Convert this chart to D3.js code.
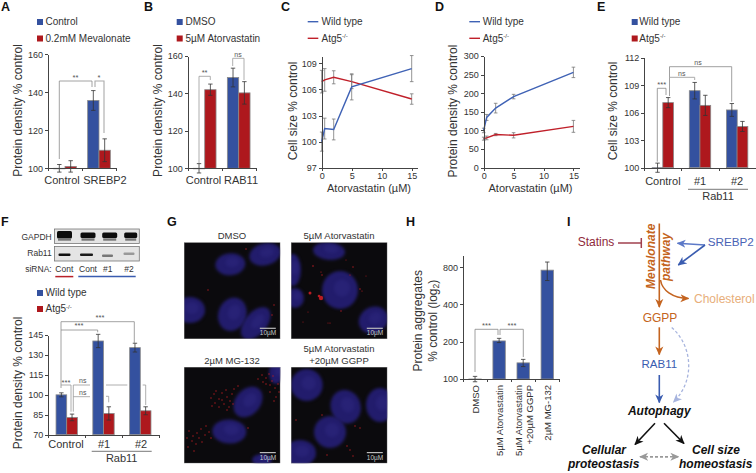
<!DOCTYPE html>
<html><head><meta charset="utf-8">
<script src="https://cdn.jsdelivr.net/npm/d3@7"></script>
<style>
html,body{margin:0;padding:0;background:#fff}
svg{display:block}
text{font-family:"Liberation Sans",Arial,sans-serif;fill:#333}
.axis path,.axis line{stroke:#444;stroke-width:1;shape-rendering:crispEdges}
.axis text{font-size:9px;fill:#333;font-family:"Liberation Sans",Arial,sans-serif}
</style></head><body>
<svg id="c" width="756" height="473" viewBox="0 0 756 473"></svg>
<script>
// ---------- DATA ----------
const BLUE="#34519f", RED="#ae181d", LINEBLUE="#3f62b5", LINERED="#c0202a";
const aCats=["Control","SREBP2"];
const aBlue=[100,135.7], aRed=[101,109.5], aBlueErr=[2,5.2], aRedErr=[3,6];
const bCats=["Control","RAB11"];
const bBlue=[100,148.5], bRed=[142,140.3], bBlueErr=[2.5,5], bRedErr=[3,6];
const doseX=[0,0.5,2,5,15];
const cBlue=[100,101.5,101.4,106.3,108.4], cBlueErr=[1.1,1.2,1.2,1.5,1.5];
const cRed=[106.9,107.1,107.4,106.9,104.9], cRedErr=[1.3,1.3,0.75,0.8,0.6];
const dBlue=[100,135,160,191,256], dBlueErr=[6,8,13,6,14];
const dRed=[78,80,89,87,111], dRedErr=[4,5,3,7,16];
const eCats=["Control","#1","#2"];
const eBlue=[100,108.4,106.3], eRed=[107.1,106.8,104.5], eBlueErr=[0.5,0.9,0.7], eRedErr=[0.55,1.1,0.55];
const fCats=["Control","#1","#2"];
const fBlue=[100,140.5,135.5], fRed=[83,86,88], fBlueErr=[1.5,5,3.3], fRedErr=[2.5,5,3];
const hCats=[["DMSO"],["5µM Atorvastatin"],["5µM Atorvastatin","+20µM GGPP"],["2µM MG-132"]];
const hVals=[100,203,135,757], hLow=[95,197,126,624], hHigh=[105,213,144,880];

const svg=d3.select("#c");
const defs=svg.append("defs");
function blurFilter(id,sd,box){
  defs.append("filter").attr("id",id).attr("x",-box).attr("y",-box).attr("width",1+2*box).attr("height",1+2*box)
    .attr("color-interpolation-filters","sRGB")
    .append("feGaussianBlur").attr("stdDeviation",sd);
}
blurFilter("soft",1.7,.3);blurFilter("dot",.3,1);blurFilter("band",.6,.6);

function label(x,y,s,o={}){
  const t=svg.append("text").attr("x",x).attr("y",y).text(s)
    .attr("font-size",o.size||10).attr("text-anchor",o.anchor||"start");
  if(o.bold)t.attr("font-weight","bold");
  if(o.italic)t.attr("font-style","italic");
  if(o.fill)t.style("fill",o.fill);
  if(o.rot!==undefined)t.attr("transform",`rotate(${o.rot} ${x} ${y})`);
  return t;
}
function atg(x,y,size=10){
  const t=label(x,y,"Atg5",{size});
  t.append("tspan").attr("dy",-3.5).attr("font-size",6).text("-/-");
}
function legendSquare(x,y,c){
  svg.append("rect").attr("x",x).attr("y",y).attr("width",6).attr("height",6).attr("fill",c);
}
function legendLine(x1,x2,y,c){
  svg.append("line").attr("x1",x1).attr("x2",x2).attr("y1",y).attr("y2",y).attr("stroke",c).attr("stroke-width",1.4);
}
function path(pts,o={}){
  svg.append("path").attr("d",d3.line()(pts)).attr("fill","none")
    .attr("stroke",o.c||"#8a8a8a").attr("stroke-width",o.w||0.8);
}
function yLabel(x,y,s){label(x,y,s,{size:12,anchor:"middle",rot:-90});}
function yAxis(scale,xpos,vals){
  svg.append("g").attr("class","axis").attr("transform",`translate(${xpos},0)`)
    .call(d3.axisLeft(scale).tickValues(vals).tickSize(3).tickSizeOuter(0).tickPadding(2));
}
function groupAxis(x,y0,n){
  svg.append("g").attr("class","axis").attr("transform",`translate(0,${y0})`)
    .call(d3.axisBottom(x).tickValues(d3.range(n+1)).tickFormat("").tickSize(3).tickSizeOuter(0));
}
function errBar(cx,yLo,yHi,col="#333",cap=2.2){
  path([[cx,yLo],[cx,yHi]],{c:col,w:0.8});
  path([[cx-cap,yLo],[cx+cap,yLo]],{c:col,w:0.8});
  path([[cx-cap,yHi],[cx+cap,yHi]],{c:col,w:0.8});
}
function pairBars(x,y,bl,rd,blE,rdE,off,w){
  [[bl,blE,BLUE,-off],[rd,rdE,RED,off]].forEach(([v,e,c,o])=>{
    svg.append("g").selectAll("rect").data(v).join("rect")
      .attr("x",(d,i)=>x(i+.5+o)-(x(1)-x(0))*w/2)
      .attr("width",(x(1)-x(0))*w)
      .attr("y",d=>y(d)).attr("height",d=>Math.max(y.range()[0]-y(d),0.5))
      .attr("fill",c).attr("stroke","#8a8a8a").attr("stroke-width",0.8);
    v.forEach((d,i)=>errBar(x(i+.5+o),y(d-e[i]),y(d+e[i])));
  });
}
function lineSeries(x,y,xs,ys,es,c){
  ys.forEach((d,i)=>errBar(x(xs[i]),y(d-es[i]),y(d+es[i]),"#777",1.8));
  svg.append("path").datum(ys).attr("fill","none").attr("stroke",c).attr("stroke-width",1.4)
    .attr("d",d3.line().x((d,i)=>x(xs[i])).y(d=>y(d)));
}
function stars(x,y,s){label(x,y,s,{size:s==="ns"?7:7.5,anchor:"middle",fill:"#555"});}

// ---------- panel letters ----------
[["A",1,11],["B",144,11],["C",281,11],["D",435,11],["E",597,11],["F",1,226],["G",167,226],["H",406,226],["I",567,226]]
 .forEach(([s,x,y])=>label(x,y,s,{size:12.5,bold:true,fill:"#111"}));

// ---------- A ----------
{const x=d3.scaleLinear().domain([0,2]).range([48,116]);
 const y=d3.scaleLinear().domain([100,160]).range([168.3,54.3]);
 legendSquare(37,19,BLUE);label(45.5,25,"Control");
 legendSquare(37,35.5,RED);label(45.5,41.5,"0.2mM Mevalonate");
 yLabel(21.5,110.5,"Protein density % control");
 pairBars(x,y,aBlue,aRed,aBlueErr,aRedErr,.167,.333);
 yAxis(y,48,[100,120,140,160]);groupAxis(x,168.3,2);
 aCats.forEach((c,i)=>label(i?105:62,184,c,{size:11,anchor:"middle"}));
 path([[59.3,159],[59.3,81],[92,81],[92,87]]);
 path([[95,87],[95,81],[104,81],[104,133]],{c:"#aaa",w:1.1});
 stars(75.5,80,"**");stars(99,80,"*");
}
// ---------- B ----------
{const x=d3.scaleLinear().domain([0,2]).range([187.7,255.7]);
 const y=d3.scaleLinear().domain([100,160]).range([168.3,56]);
 legendSquare(176.7,19,BLUE);label(185.5,25,"DMSO");
 legendSquare(176.7,35.5,RED);label(185.5,41.5,"5µM Atorvastatin");
 yLabel(161.5,110.5,"Protein density % control");
 pairBars(x,y,bBlue,bRed,bBlueErr,bRedErr,.167,.333);
 yAxis(y,187.7,[100,120,140,160]);groupAxis(x,168.3,2);
 bCats.forEach((c,i)=>label(i?241:203.5,184,c,{size:11,anchor:"middle"}));
 path([[199,163],[199,76.3],[210.3,76.3],[210.3,80]],{c:"#999"});
 path([[232.7,66],[232.7,58.3],[244,58.3],[244,80]],{c:"#999"});
 stars(204.6,75,"**");stars(238,57,"ns");
}
// ---------- C ----------
{const x=d3.scaleLinear().domain([0,16]).range([321.7,417.7]);
 const y=d3.scaleLinear().domain([97,109.85]).range([167.7,56]);
 legendLine(307.7,318.3,21.7,LINEBLUE);label(321.5,25,"Wild type");
 legendLine(307.7,318.3,38.3,LINERED);atg(321.5,41.5);
 yLabel(296.5,111,"Cell size % control");
 lineSeries(x,y,doseX,cRed,cRedErr,LINERED);
 lineSeries(x,y,doseX,cBlue,cBlueErr,LINEBLUE);
 yAxis(y,321.7,[97,100,103,106,109]);
 svg.append("g").attr("class","axis").attr("transform","translate(0,167.7)")
  .call(d3.axisBottom(x).tickValues([0,5,10,15]).tickSize(3).tickSizeOuter(0).tickPadding(2));
 label(369,192,"Atorvastatin (µM)",{size:11,anchor:"middle"});
}
// ---------- D ----------
{const x=d3.scaleLinear().domain([0,16]).range([483.7,579.4]);
 const y=d3.scaleLinear().domain([0,300]).range([167.7,56]);
 legendLine(469.3,480,21.7,LINEBLUE);label(482.7,25,"Wild type");
 legendLine(469.3,480,38.3,LINERED);atg(482.7,41.5);
 yLabel(456.5,111,"Protein density % control");
 lineSeries(x,y,doseX,dRed,dRedErr,LINERED);
 lineSeries(x,y,doseX,dBlue,dBlueErr,LINEBLUE);
 yAxis(y,483.7,[0,50,100,150,200,250,300]);
 svg.append("g").attr("class","axis").attr("transform","translate(0,167.7)")
  .call(d3.axisBottom(x).tickValues([0,5,10,15]).tickSize(3).tickSizeOuter(0).tickPadding(2));
 label(530.5,192,"Atorvastatin (µM)",{size:11,anchor:"middle"});
}
// ---------- E ----------
{const x=d3.scaleLinear().domain([0,3]).range([644.3,755.7]);
 const y=d3.scaleLinear().domain([100,112]).range([167.7,57.7]);
 legendSquare(631.7,19,BLUE);label(639.3,25,"Wild type");
 legendSquare(631.7,35.5,RED);atg(639.3,41.5);
 yLabel(617,111,"Cell size % control");
 pairBars(x,y,eBlue,eRed,eBlueErr,eRedErr,.143,.29);
 yAxis(y,644.3,[100,103,106,109,112]);groupAxis(x,167.7,3);
 eCats.forEach((c,i)=>label(x(i+.5),185,c,{size:11,anchor:"middle"}));
 path([[688,189.3],[748,189.3]],{c:"#555"});
 label(718,199.5,"Rab11",{size:11,anchor:"middle"});
 path([[657.3,161.7],[657.3,88.3],[666,88.3],[666,95]],{c:"#888"});
 path([[669.5,96],[669.5,66.7],[731.7,66.7],[731.7,101.7]],{c:"#888"});
 path([[669.5,77.3],[694.7,77.3],[694.7,80]],{c:"#aaa",w:1});
 stars(661.7,86.5,"***");stars(681.7,75.5,"ns");stars(698,65,"ns");
}
// ---------- F ----------
{// western blot
 [[229,243.5],[246.5,261]].forEach(([a,b])=>svg.append("rect").attr("x",54.5).attr("y",a).attr("width",84.8).attr("height",b-a)
   .attr("fill","#e4e4e4").attr("stroke","#777").attr("stroke-width",0.8));
 const gapdhCentres=[64.5,88,109.7,130.7], gapdhWidths=[15,15,15,13], gapdhTop=[231,232.5,232.5,232.5], gapdhHeight=[7.5,5.5,5.5,5.5];
 const rabCentres=[64.5,86.5,107.5,129], rabWidths=[12,13,11,11], rabTop=[253.5,253.6,254.6,252.6], rabShade=["#111","#1a1a1a","#777","#999"];
 gapdhCentres.forEach((c,i)=>{
   svg.append("rect").attr("x",c-gapdhWidths[i]/2).attr("y",gapdhTop[i]).attr("width",gapdhWidths[i]).attr("height",gapdhHeight[i]).attr("rx",1.5)
     .attr("fill","#0c0c0c").attr("filter","url(#band)");
   svg.append("rect").attr("x",c-gapdhWidths[i]/2+1).attr("y",238.3).attr("width",gapdhWidths[i]-2).attr("height",2.4)
     .attr("fill","#777").attr("filter","url(#band)");
 });
 rabCentres.forEach((c,i)=>svg.append("rect").attr("x",c-rabWidths[i]/2).attr("y",rabTop[i]).attr("width",rabWidths[i]).attr("height",2.4).attr("rx",1)
     .attr("fill",rabShade[i]).attr("filter","url(#band)"));
 label(51.7,239.5,"GAPDH",{size:8.5,anchor:"end"});
 label(51.7,256,"Rab11",{size:8.5,anchor:"end"});
 label(51.7,272,"siRNA:",{size:8.5,anchor:"end"});
 ["Cont","Cont","#1","#2"].forEach((s,i)=>label([64.3,88,107.7,129][i],272,s,{size:8.5,anchor:"middle"}));
 path([[55.3,276.6],[73.3,276.6]],{c:"#b82028",w:1.5});
 path([[78.3,276.6],[135.7,276.6]],{c:"#3a5cb0",w:1.5});

 const x=d3.scaleLinear().domain([0,3]).range([48.3,158.7]);
 const y=d3.scaleLinear().domain([70,145]).range([434.7,335]);
 legendSquare(37,290,BLUE);label(45.5,296,"Wild type");
 legendSquare(37,306,RED);atg(45.5,312);
 yLabel(21.5,383,"Protein density % control");
 pairBars(x,y,fBlue,fRed,fBlueErr,fRedErr,.145,.29);
 yAxis(y,48.3,[70,85,100,115,130,145]);groupAxis(x,434.7,3);
 fCats.forEach((c,i)=>label([66,104,141][i],448.3,c,{size:11,anchor:"middle"}));
 path([[91.7,451.3],[151.7,451.3]],{c:"#555"});
 label(121.7,462,"Rab11",{size:11,anchor:"middle"});
 path([[61,388],[61,321.7],[134.3,321.7],[134.3,343.3]]);
 path([[61,330],[97.7,330],[97.7,332.3]]);
 path([[61,385],[71,385],[71,411.7]],{c:"#999"});
 path([[73.3,411.7],[73.3,385],[90,385]],{c:"#999"});
 path([[73.3,396.7],[90,396.7]],{c:"#999"});
 path([[106,385],[127.3,385]],{c:"#999"});
 path([[142.7,385],[145.7,385],[145.7,405]],{c:"#999"});
 path([[106,396.3],[108.7,396.3],[108.7,402.3]],{c:"#999"});
 stars(100,319.5,"***");stars(79,328,"***");stars(66,384.5,"***");stars(82.7,382.5,"ns");stars(82.7,394.5,"ns");
}
// ---------- G microscopy ----------
{const panels=[
  {x:184,y:242.3,w:96.3,h:96.7,
   nuclei:[[230.3,264.3,15,11,-5],[265,254.3,16,11,-15],[190,310,15,13,0],[232.3,314.3,14,17,20],[255.7,323.3,11,19,40]],
   specks:[[246,249],[208,290],[274,305],[272,315]]},
  {x:291,y:242.3,w:96.3,h:96.7,
   nuclei:[[329,251,16,9,5],[293,270,8,16,0],[295,298,9,10,0],[340,290,18,19,0],[373.3,320,15,13,-30]],
   specks:[[313,266,.8],[322,275,.7],[321,272,.6],[353,267,.7],[350,275,.6],[310,293,1.5],[321,298,2.2],[319,296,1.3],[360,289,.7],[362,291,.6],[341,311,.7],[308,312,.5],[330,323,.6],[328,323,.5],[366,276,.5],[346,260,.5],[303,322,.5]]},
  {x:184,y:367,w:96.3,h:96.3,
   nuclei:[[248,402,12.5,17,40],[229.3,431.5,17,12,3],[276,373,7,11,0],[262,460,10,6,0]],
   specks:[[211,398],[214,394],[219,399],[222,393],[226,390],[215,403],[219,407],[224,404],[227,397],[230,401],[212,406],[234,389],[238,386],[232,394],[216,391],[227,410],[222,400],[229,407],[233,404],[189,431],[193,436],[197,433],[201,429],[206,426],[199,438],[205,435],[192,441],[187,438],[196,444],[202,442],[209,432],[188,447],[194,451],[211,438],[266,378],[269,374],[272,381],[275,388],[263,382],[270,392],[276,397],[266,384],[262,375],[273,376],[258,379],[278,384],[274,401],[279,392],[270,385],[248,428]]},
  {x:291,y:367,w:96.3,h:96.3,
   nuclei:[[306.7,385,16,16,0],[345.7,406.7,15,17,-20],[330,432,16,16,20],[380,405,14,17,0],[300,453,16,13,0]],
   specks:[[355,426],[360,428],[322,415],[347,446],[350,450],[353,456],[327,455],[296,420]]}
 ];
 panels.forEach((p,i)=>{
  const id="clip"+i;
  defs.append("clipPath").attr("id",id).append("rect").attr("x",p.x).attr("y",p.y).attr("width",p.w).attr("height",p.h);
  const g=svg.append("g").attr("clip-path",`url(#${id})`);
  g.append("rect").attr("x",p.x).attr("y",p.y).attr("width",p.w).attr("height",p.h).attr("fill","#0b0a0d");
  g.selectAll("ellipse.n").data(p.nuclei).join("ellipse").attr("class","n")
    .attr("transform",d=>`translate(${d[0]},${d[1]}) rotate(${d[4]})`)
    .attr("rx",d=>d[2]).attr("ry",d=>d[3]).attr("fill","#221c6c").attr("filter","url(#soft)");
  g.selectAll("ellipse.m").data(p.nuclei).join("ellipse").attr("class","m")
    .attr("transform",d=>`translate(${d[0]+2},${d[1]-2}) rotate(${d[4]})`)
    .attr("rx",d=>d[2]*.45).attr("ry",d=>d[3]*.45).attr("fill","#2e2880").attr("opacity",.5).attr("filter","url(#soft)");
  g.selectAll("circle").data(p.specks).join("circle")
    .attr("cx",d=>d[0]).attr("cy",d=>d[1]).attr("r",d=>d[2]||.7)
    .attr("fill","#b81c22").attr("filter","url(#dot)");
  g.append("rect").attr("x",p.x).attr("y",p.y).attr("width",p.w).attr("height",p.h).attr("fill","none").attr("stroke","#aaa").attr("stroke-width",.8);
  const bx=p.x+p.w-20.5, by=p.y+p.h-10.7;
  svg.append("line").attr("x1",bx).attr("x2",bx+16).attr("y1",by).attr("y2",by).attr("stroke","#bbb").attr("stroke-width",1.2);
  label(bx+8.2,p.y+p.h-3.6,"10µM",{size:6.5,anchor:"middle",fill:"#c8c8c8"});
 });
 label(232,239.3,"DMSO",{size:9.5,anchor:"middle"});
 label(339,239.3,"5µM Atorvastatin",{size:9.5,anchor:"middle"});
 label(232,364,"2µM MG-132",{size:9.5,anchor:"middle"});
 label(339,352,"5µM Atorvastatin",{size:9.5,anchor:"middle"});
 label(339,364,"+20µM GGPP",{size:9.5,anchor:"middle"});
}
// ---------- H ----------
{const x=d3.scaleLinear().domain([0,4]).range([463,559.3]);
 const y=d3.scaleLog().base(2).domain([100,990]).range([379,255.7]);
 label(421.7,320.8,"Protein aggregates",{size:12,anchor:"middle",rot:-90});
 const t2=label(437,320.8,"% control (log",{size:12,anchor:"middle",rot:-90});
 t2.append("tspan").attr("dy",2).attr("font-size",8.5).text("2");
 t2.append("tspan").attr("dy",-2).text(")");
 svg.append("g").selectAll("rect").data(hVals).join("rect")
   .attr("x",(d,i)=>x(i+.5)-6.2).attr("width",12.4)
   .attr("y",d=>y(d)).attr("height",d=>Math.max(y(100)-y(d),.5))
   .attr("fill",BLUE).attr("stroke","#8a8a8a").attr("stroke-width",.8);
 hVals.forEach((d,i)=>errBar(x(i+.5),y(hLow[i]),y(hHigh[i])));
 svg.append("g").attr("class","axis").attr("transform","translate(463,0)")
  .call(d3.axisLeft(y).tickValues([100,200,400,800]).tickFormat(d3.format("d")).tickSize(3).tickSizeOuter(0).tickPadding(2));
 groupAxis(x,379,4);
 const base=[479,502.7,[521.7,532.7],551];
 hCats.forEach((lines,i)=>lines.forEach((s,j)=>{
   const bx=Array.isArray(base[i])?base[i][j]:base[i];
   label(bx,385,s,{size:9.5,anchor:"end",rot:-90});
 }));
 path([[475,372],[475,329.3],[498,329.3],[498,335]],{c:"#888"});
 path([[500,335],[500,329.3],[523.3,329.3],[523.3,357]],{c:"#888"});
 stars(486.5,328,"***");stars(512,328,"***");
}
// ---------- I diagram ----------
{const marker=(id,c,s=9)=>{
   defs.append("marker").attr("id",id).attr("viewBox","0 0 10 10").attr("refX",9).attr("refY",5)
    .attr("markerUnits","userSpaceOnUse").attr("markerWidth",s).attr("markerHeight",s).attr("orient","auto")
    .append("path").attr("d","M0,0.5L10,5L0,9.5L2.8,5Z").attr("fill",c);
 };
 const OR="#c46420",LO="#e8ae7a",BL="#3a5cb0",LB="#5c79c8",PB="#a7b4de",BK="#111",GY="#999";
 marker("mO",OR);marker("mB",BL);marker("mL",LB);marker("mP",PB);marker("mK",BK);marker("mG",GY);
 const arrow=(d,c,m,o={})=>svg.append("path").attr("d",d).attr("fill","none").attr("stroke",c)
   .attr("stroke-width",o.w||1.6).attr("stroke-dasharray",o.dash||null).attr("marker-end",`url(#${m})`);
 label(577.7,246,"Statins",{size:12,fill:"#8f2a3a"});
 path([[618,243],[641,243]],{c:"#a0404e",w:1.5});
 path([[641.3,238],[641.3,248]],{c:"#a0404e",w:1.5});
 label(655,289,"Mevalonate",{size:12,bold:true,italic:true,fill:OR,rot:-90});
 label(670,281,"pathway",{size:12,bold:true,italic:true,fill:OR,rot:-90});
 arrow("M659.3,223.5L659.3,307",OR,"mO");
 arrow("M660.5,280C662,290 672,298 688.5,298.5",OR,"mO");
 label(694,302.8,"Cholesterol",{size:12,fill:LO});
 label(707.7,245.8,"SREBP2",{size:11.7,fill:"#4a63b5"});
 arrow("M705,245L677.5,243.3",LB,"mL");
 arrow("M705,245L678.3,265",BL,"mB");
 label(660,321.7,"GGPP",{size:12,anchor:"middle",fill:OR});
 arrow("M659.3,327.3L659.3,354.5",OR,"mO");
 label(659.3,367.7,"RAB11",{size:11.5,anchor:"middle",fill:BL});
 arrow("M659.3,375L659.3,402.5",BL,"mB");
 arrow("M671.7,327.5C692,345 696,380 673.5,402",PB,"mP",{dash:"3 2.2",w:1.3});
 label(659.3,415,"Autophagy",{size:12,anchor:"middle",bold:true,italic:true,fill:"#111"});
 arrow("M655,423.3L635,444.5",BK,"mK");
 arrow("M664,423.3L684,443.5",BK,"mK");
 label(604,454,"Cellular",{size:12,anchor:"middle",bold:true,italic:true,fill:"#111"});
 label(603.7,468,"proteostasis",{size:12,anchor:"middle",bold:true,italic:true,fill:"#111"});
 label(716,454,"Cell size",{size:12,anchor:"middle",bold:true,italic:true,fill:"#111"});
 label(715.7,468,"homeostasis",{size:12,anchor:"middle",bold:true,italic:true,fill:"#111"});
 arrow("M650,456.7L678.5,456.7",GY,"mG",{dash:"3 2",w:1.4});
 arrow("M668,456.7L640,456.7",GY,"mG",{dash:"3 2",w:1.4});
}
</script></body></html>
